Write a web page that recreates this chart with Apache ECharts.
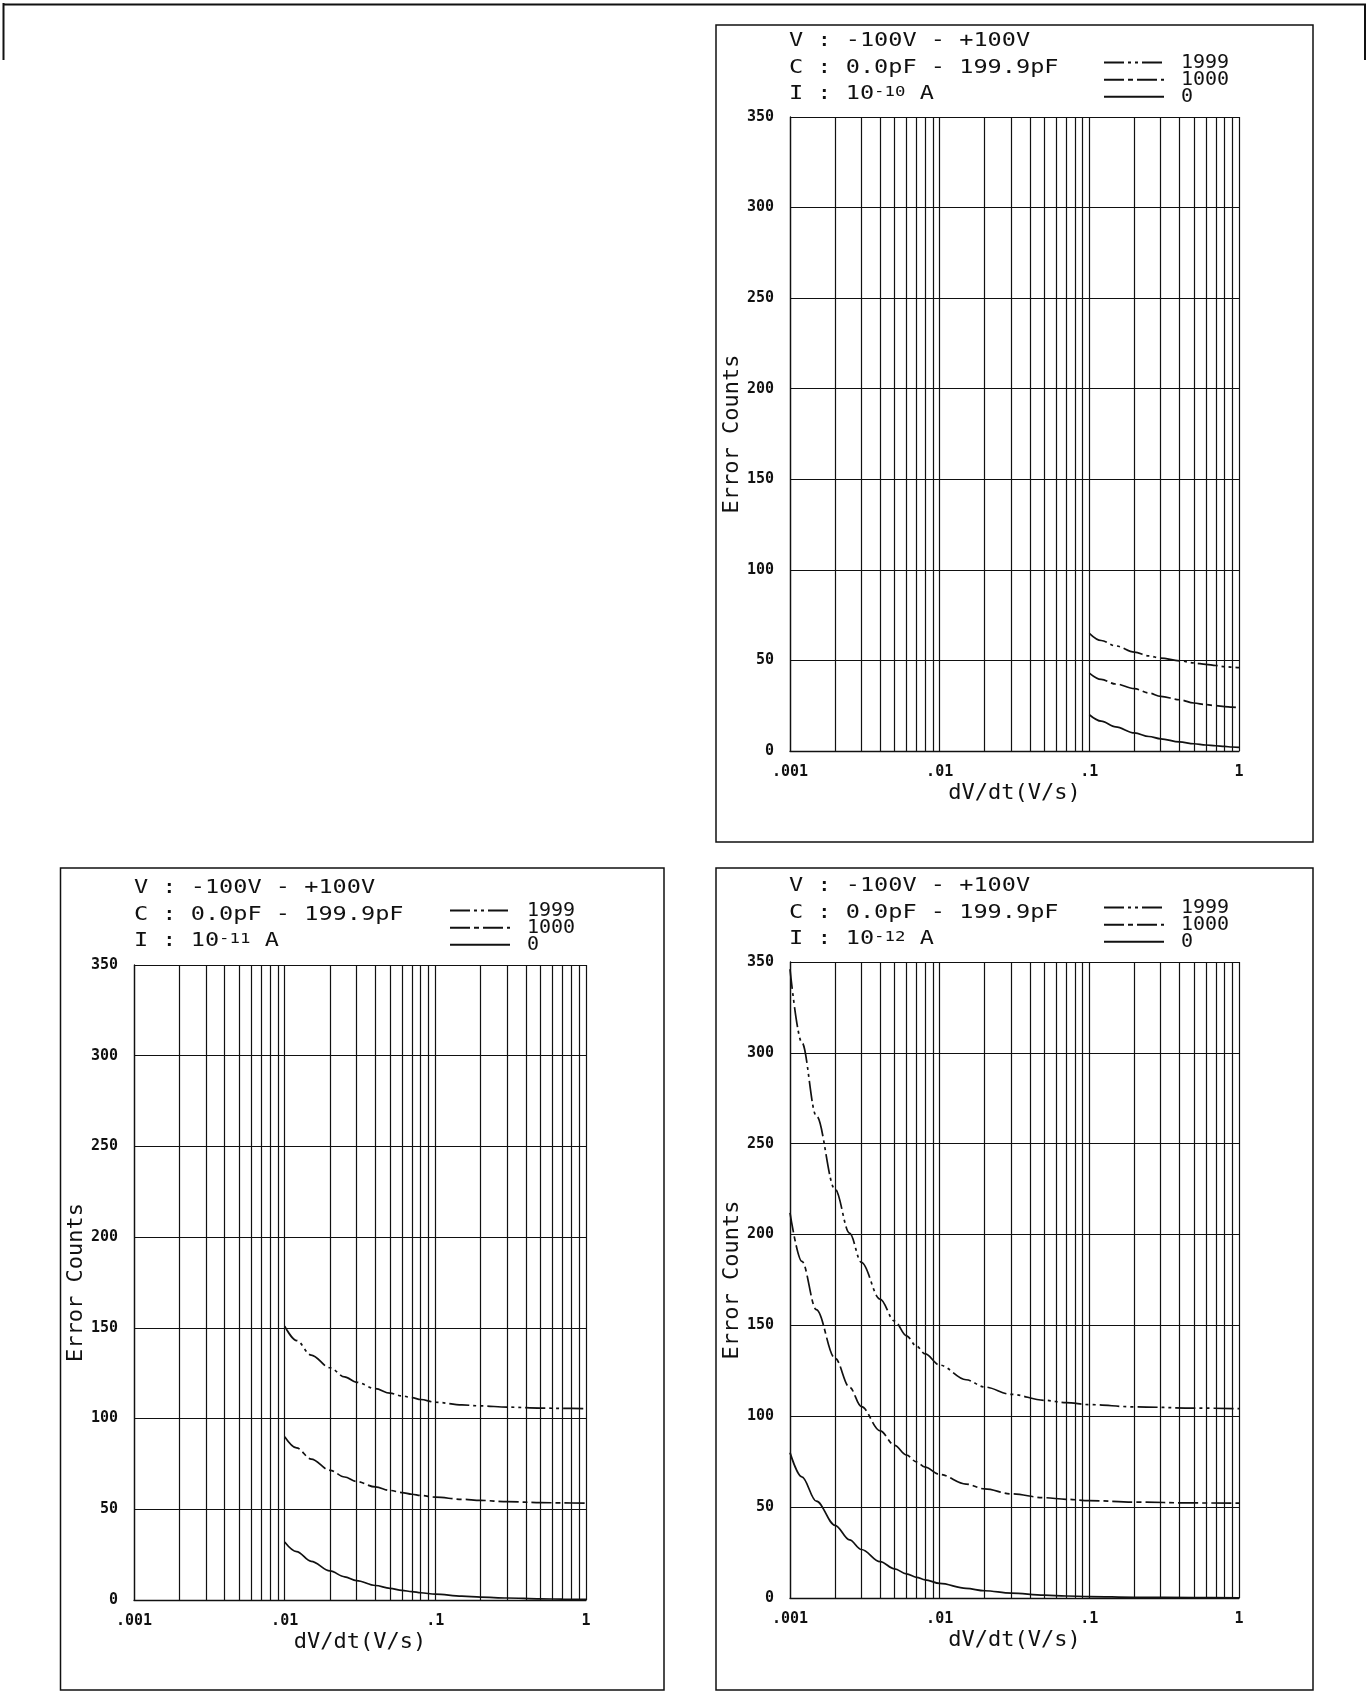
<!DOCTYPE html>
<html><head><meta charset="utf-8">
<script src="https://cdn.jsdelivr.net/npm/echarts@6.0.0/dist/echarts.min.js"></script>
<style>html,body{margin:0;padding:0;background:#fff}#c{width:1370px;height:1701px}</style>
</head><body><div id="c"></div><script>
// ---------- data ----------
const xTickLabels = ['.001', '.01', '.1', '1'];
const minorGridX = [0.002,0.003,0.004,0.005,0.006,0.007,0.008,0.009,
                    0.02,0.03,0.04,0.05,0.06,0.07,0.08,0.09,
                    0.2,0.3,0.4,0.5,0.6,0.7,0.8,0.9];
const seriesNames = ['1999', '1000', '0'];
const lineV = 'V : -100V - +100V';
const lineC = 'C : 0.0pF - 199.9pF';
const currentExponents = ['-10', '-11', '-12'];

// Panel I = 1e-10 A
const xA = [0.1, 0.12, 0.15, 0.2, 0.25, 0.3, 0.4, 0.5, 0.6, 0.7, 0.8, 0.9, 1];
const a1999 = [65, 61, 58, 54.6, 52.5, 51.3, 49.8, 48.6, 47.8, 47.2, 46.6, 46.3, 46];
const a1000 = [43, 39.5, 37, 34.4, 32, 30.2, 28.3, 26.5, 25.6, 25, 24.5, 24.2, 23.8];
const a0    = [20, 16.5, 13.3, 10, 8, 6.7, 5, 4, 3.3, 2.9, 2.5, 2.2, 2];

// Panel I = 1e-11 A
const xB = [0.01, 0.012, 0.015, 0.02, 0.025, 0.03, 0.04, 0.05, 0.06, 0.07, 0.08, 0.1, 0.15, 0.2, 0.3, 0.5, 0.7, 1];
const b1999 = [151, 143, 135, 128, 123, 120, 116.5, 114, 112.5, 111.5, 110.5, 109, 107.5, 107, 106.3, 105.8, 105.6, 105.5];
const b1000 = [90, 83.8, 77.7, 71.5, 67.8, 65.3, 62.3, 60.4, 59.2, 58.3, 57.6, 56.7, 55.5, 54.9, 54.2, 53.7, 53.5, 53.4];
const b0    = [32, 26.7, 21.3, 16, 12.8, 10.7, 8, 6.4, 5.3, 4.6, 4, 3.2, 2.1, 1.6, 1.1, 0.6, 0.5, 0.3];

// Panel I = 1e-12 A
const xC = [0.001, 0.0012, 0.0015, 0.002, 0.0025, 0.003, 0.004, 0.005, 0.006, 0.007, 0.008, 0.01, 0.015, 0.02, 0.03, 0.05, 0.07, 0.1, 0.2, 0.5, 1];
const c1999 = [346, 305.7, 265.3, 225, 200.8, 184.7, 164.5, 152.4, 144.3, 138.6, 134.3, 128.2, 120.1, 116.1, 112.1, 108.8, 107.5, 106.4, 105.2, 104.5, 104.2];
const c1000 = [212, 185.3, 158.7, 132, 116, 105.3, 92, 84, 78.7, 74.9, 72, 68, 62.7, 60, 57.3, 55.2, 54.3, 53.6, 52.8, 52.3, 52.2];
const c0    = [80, 66.7, 53.3, 40, 32, 26.7, 20, 16, 13.3, 11.4, 10, 8, 5.3, 4, 2.7, 1.6, 1.1, 0.8, 0.4, 0.2, 0.1];

// ---------- layout ----------
const INK = '#111';
const MONO = '"DejaVu Sans Mono", "Liberation Mono", monospace';
const grids = [
  {left: 790, top: 117, width: 449, height: 634},
  {left: 134, top: 965, width: 452, height: 635},
  {left: 790, top: 962, width: 449, height: 636}
];
const panelData = [
  {xs: xA, ys: [a1999, a1000, a0]},
  {xs: xB, ys: [b1999, b1000, b0]},
  {xs: xC, ys: [c1999, c1000, c0]}
];
const dashStyles = [[20,4,3,4,3,4], [20,4,5,4], 'solid'];

const chart = echarts.init(document.getElementById('c'), null, {renderer: 'canvas'});

const xAxes = grids.map((g, i) => ({
  type: 'log', gridIndex: i, min: 0.001, max: 1, logBase: 10, splitNumber: 3,
  name: 'dV/dt(V/s)', nameLocation: 'middle', nameGap: 31,
  nameTextStyle: {fontFamily: MONO, fontSize: 22, color: INK},
  axisLine: {show: true, onZero: false, lineStyle: {color: INK, width: 1.3}},
  axisTick: {show: false},
  axisLabel: {margin: 14, fontFamily: MONO, fontWeight: 'bold', fontSize: 15, color: INK,
    formatter: v => xTickLabels[Math.round(Math.log10(v)) + 3]},
  splitLine: {show: true, lineStyle: {color: INK, width: 1.2}}
}));
const yAxes = grids.map((g, i) => ({
  type: 'value', gridIndex: i, min: 0, max: 350, interval: 50,
  name: 'Error Counts', nameLocation: 'middle', nameGap: 44,
  nameTextStyle: {fontFamily: MONO, fontSize: 22, color: INK},
  axisLine: {show: true, lineStyle: {color: INK, width: 1.3}},
  axisTick: {show: false},
  axisLabel: {margin: 16, fontFamily: MONO, fontWeight: 'bold', fontSize: 15, color: INK},
  splitLine: {show: true, lineStyle: {color: INK, width: 1.2}}
}));

const series = [];
panelData.forEach((p, gi) => {
  p.ys.forEach((ys, k) => {
    const s = {
      type: 'line', name: seriesNames[k], xAxisIndex: gi, yAxisIndex: gi,
      data: p.xs.map((x, j) => [x, ys[j]]),
      symbol: 'none', smooth: 0.35, smoothMonotone: 'x',
      lineStyle: {color: INK, width: 1.7, type: dashStyles[k]},
      itemStyle: {color: INK},
      emphasis: {disabled: true}, silent: true, z: 5
    };
    if (k === 2) {
      s.markLine = {
        silent: true, symbol: ['none', 'none'], label: {show: false}, precision: 6,
        lineStyle: {color: INK, width: 1.2, type: 'solid'},
        emphasis: {disabled: true},
        data: minorGridX.map(v => ({xAxis: v}))
      };
    }
    series.push(s);
  });
});

// legends: one per entry, placed relative to each plot
const legendLeftOffset = [313, 315, 313];
const legendLineOffsets = [-54.3, -37, -20];   // line centre relative to plot top
const legends = [];
grids.forEach((g, gi) => {
  seriesNames.forEach((nm, k) => {
    legends.push({
      left: g.left + legendLeftOffset[gi], top: g.top + legendLineOffsets[k] - 10.3,
      orient: 'vertical', padding: 0, itemWidth: 60, itemHeight: 14, selectedMode: false,
      itemStyle: {opacity: 0, borderWidth: 0},
      textStyle: {fontFamily: MONO, fontSize: 20, color: INK, padding: [0, 0, 0, 12]},
      data: [nm]
    });
  });
});

const titlePos = [
  {x: 789, y: 41},
  {x: 134, y: 888},
  {x: 789, y: 886}
];
const textStyleBase = {fill: INK, fontFamily: MONO, fontSize: 19,
  textAlign: 'left', textVerticalAlign: 'middle', align: 'left', verticalAlign: 'middle'};
const graphic = [];
titlePos.forEach((tp, i) => {
  graphic.push({type: 'text', x: tp.x, y: tp.y, scaleX: 1.24, silent: true,
    style: Object.assign({text: lineV, x: 0, y: 0}, textStyleBase)});
  graphic.push({type: 'text', x: tp.x, y: tp.y + 26.7, scaleX: 1.24, silent: true,
    style: Object.assign({text: lineC, x: 0, y: 0}, textStyleBase)});
  graphic.push({type: 'text', x: tp.x, y: tp.y + 53.4, scaleX: 1.24, silent: true,
    style: Object.assign({
      text: '{n|I : 10}{s|' + currentExponents[i] + '}{n| A}', x: 0, y: 0,
      rich: {
        n: {fontFamily: MONO, fontSize: 19, fill: INK, color: INK, verticalAlign: 'middle'},
        s: {fontFamily: MONO, fontSize: 14, fill: INK, color: INK, verticalAlign: 'top'}
      }
    }, textStyleBase)});
});
// panel frames
[[716, 25, 597, 817], [60.5, 868, 603.5, 822], [716, 868, 597, 822]].forEach(r => {
  graphic.push({type: 'rect', silent: true, shape: {x: r[0], y: r[1], width: r[2], height: r[3]},
    style: {fill: 'none', stroke: INK, lineWidth: 1.5}});
});
// page frame fragments
graphic.push({type: 'line', silent: true, shape: {x1: 3, y1: 4.5, x2: 1366, y2: 4.5}, style: {stroke: INK, lineWidth: 2}});
graphic.push({type: 'line', silent: true, shape: {x1: 3.5, y1: 3, x2: 3.5, y2: 60}, style: {stroke: INK, lineWidth: 2}});
graphic.push({type: 'line', silent: true, shape: {x1: 1365, y1: 4, x2: 1365, y2: 60}, style: {stroke: INK, lineWidth: 2}});

chart.setOption({
  animation: false,
  backgroundColor: '#fff',
  grid: grids.map(g => Object.assign({containLabel: false, outerBoundsMode: 'none'}, g)),
  xAxis: xAxes,
  yAxis: yAxes,
  legend: legends,
  series: series,
  graphic: graphic
});
</script></body></html>
